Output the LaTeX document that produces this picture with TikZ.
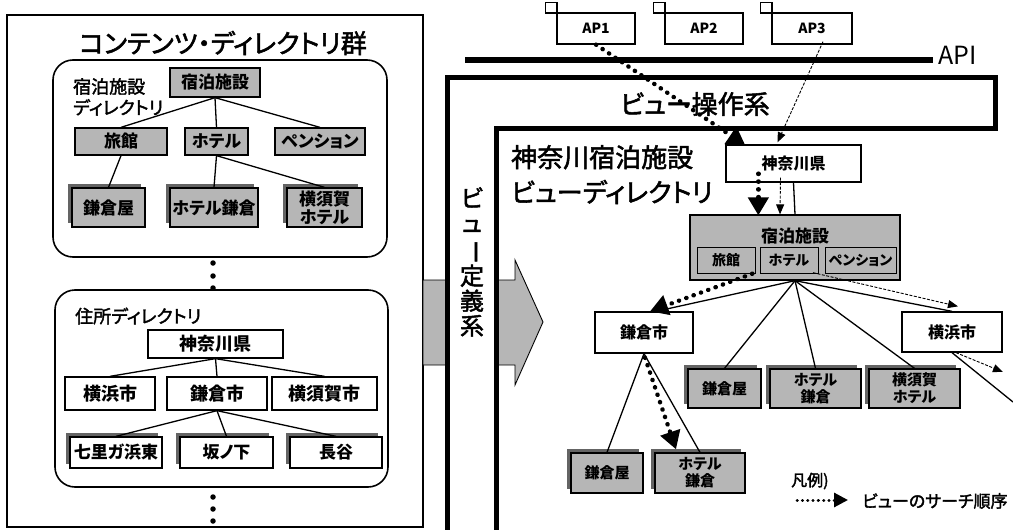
\documentclass[tikz,border=0pt]{standalone}
\usepackage{fontspec}
\usepackage{graphicx}
\setmainfont{Noto Sans CJK JP}[RawFeature={+palt}]
\newfontfamily\medfont{Noto Sans CJK JP}[RawFeature={+palt;embolden=2}]
\usetikzlibrary{arrows.meta,shadows,calc}
\definecolor{halftone}{RGB}{182,182,182}
\definecolor{shadowgrey}{RGB}{100,100,100}
\tikzset{
  bx/.style={draw, line width=1.3pt, inner sep=0pt, align=center, font=\bfseries\fontsize{17}{19}\selectfont},
  whitebox/.style={bx, fill=white},
  greybox/.style={bx, fill=halftone},
  stackbox/.style={greybox, general shadow={shadow xshift=-4pt, shadow yshift=4pt, fill=shadowgrey}},
  whitestack/.style={whitebox, general shadow={shadow xshift=-4pt, shadow yshift=4pt, fill=shadowgrey}},
  tree/.style={line width=1.3pt},
  search/.style={line width=4.4pt, dash pattern=on 0.3pt off 7.5pt, line cap=round, -{Triangle[length=18pt,width=20pt]}},
  thinsearch/.style={line width=0.9pt, dash pattern=on 3pt off 1.5pt, -{Triangle[length=10pt,width=8pt]}},
  rbox/.style={draw, line width=1.6pt, rounded corners=20pt},
  lframe/.style={line width=5pt},
  dotmark/.style={circle, fill=black, inner sep=0pt, minimum size=5.5pt},
  plaintext/.style={inner sep=0pt},
}
\begin{document}
\begin{tikzpicture}[x=1pt,y=-1pt]
\useasboundingbox (0,0) rectangle (1013,530);
\fill[white] (0,0) rectangle (1013,530);

% ---------- left panel ----------
\draw[line width=1.5pt] (7,15) rectangle (423,527);
\node[plaintext, font=\medfont\fontsize{26}{28}\selectfont] (title) at (223,43) {コンテンツ・ディレクトリ群};

\draw[rbox] (53,60) rectangle (387,257);
\node[plaintext, anchor=north west, align=left, font=\medfont\fontsize{18}{21}\selectfont] (lodgelabel) at (73,78) {宿泊施設\\ディレクトリ};
\node[greybox, minimum width=90pt, minimum height=29pt] (Lroot) at (215,82.5) {宿泊施設};
\node[greybox, minimum width=92pt, minimum height=27pt] (Lryokan) at (121,141.5) {旅館};
\node[greybox, minimum width=63pt, minimum height=27pt] (Lhotel) at (216.5,141.5) {ホテル};
\node[greybox, minimum width=90pt, minimum height=27pt] (Lpension) at (320,141.5) {ペンション};
\node[stackbox, minimum width=73pt, minimum height=39pt] (Lkamakuraya) at (108.5,207.5) {鎌倉屋};
\node[stackbox, minimum width=88pt, minimum height=39pt] (Lhotelk) at (214,207.5) {ホテル鎌倉};
\node[stackbox, minimum width=75pt, minimum height=39pt, font=\bfseries\fontsize{17}{18}\selectfont] (Lyokohotel) at (324.5,207.5) {横須賀\\ホテル};
\draw[tree] (Lroot.south) -- (Lryokan.north);
\draw[tree] (Lroot.south) -- (Lhotel.north);
\draw[tree] (Lroot.south) -- (Lpension.north);
\draw[tree] (Lryokan.south) -- (Lkamakuraya.north);
\draw[tree] (Lhotel.south) -- (Lhotelk.north);
\draw[tree] (Lhotel.south) -- (Lyokohotel.north);

\node[dotmark] (dA) at (213,263) {};
\node[dotmark] (dB) at (213,276) {};
\node[dotmark] (dC) at (213,288) {};

\draw[rbox] (55,290) rectangle (388,487);
\node[plaintext, anchor=west, font=\medfont\fontsize{18}{20}\selectfont] (addrlabel) at (75,316) {住所ディレクトリ};
\node[whitebox, minimum width=135pt, minimum height=28pt, font=\bfseries\fontsize{18}{20}\selectfont] (Lkana) at (215.5,344) {神奈川県};
\node[whitebox, minimum width=90pt, minimum height=33pt, font=\bfseries\fontsize{18}{20}\selectfont] (Lyokohama) at (110,393.5) {横浜市};
\node[whitebox, minimum width=100pt, minimum height=33pt, font=\bfseries\fontsize{18}{20}\selectfont] (Lkamakura) at (217,393.5) {鎌倉市};
\node[whitebox, minimum width=105pt, minimum height=33pt, font=\bfseries\fontsize{18}{20}\selectfont] (Lyokosuka) at (324.5,393.5) {横須賀市};
\node[whitestack, minimum width=92pt, minimum height=31pt] (Lshichi) at (116,452.5) {七里ガ浜東};
\node[whitestack, minimum width=93pt, minimum height=31pt] (Lsaka) at (226.5,452.5) {坂ノ下};
\node[whitestack, minimum width=92pt, minimum height=31pt] (Lhase) at (336,452.5) {長谷};
\draw[tree] (Lkana.south) -- (Lyokohama.north);
\draw[tree] (Lkana.south) -- (Lkamakura.north);
\draw[tree] (Lkana.south) -- (Lyokosuka.north);
\draw[tree] (Lkamakura.south) -- (Lshichi.north);
\draw[tree] (Lkamakura.south) -- (Lsaka.north);
\draw[tree] (Lkamakura.south) -- (Lhase.north);

\node[dotmark] (dD) at (213,497) {};
\node[dotmark] (dE) at (213,509) {};
\node[dotmark] (dF) at (213,521) {};

% ---------- big arrow ----------
\draw[line width=0.9pt, fill=halftone] (423,280) -- (515,280) -- (515,260) -- (543,322) -- (515,385) -- (515,365) -- (423,365) -- cycle;

% ---------- L frame ----------
\fill[white] (447.5,77) -- (995,77) -- (995,128) -- (496,128) -- (496,532) -- (447.5,532) -- cycle;
\draw[lframe] (447.5,532) -- (447.5,77) -- (995,77) -- (995,128) -- (496,128) -- (496,532);
\node[plaintext, font=\medfont\fontsize{26}{28}\selectfont] (opsys) at (695,104) {ビュー操作系};
\node[plaintext, align=center, font=\medfont\fontsize{24}{25}\selectfont] (defsys) at (472,262) {ビ\\ュ\\\rotatebox[origin=c]{-90}{ー}\\定\\義\\系};

% ---------- API ----------
\node[plaintext, anchor=west, font=\fontsize{25}{28}\selectfont] (apilabel) at (938,55) {API};
\coordinate (apistart) at (465,60);
\draw[line width=6pt] (apistart) -- ($(apistart -| apilabel.west)+(-5,0)$);

\node[whitebox, font=\bfseries\fontsize{14}{16}\selectfont, minimum width=78pt, minimum height=31pt] (ap1) at (596,28.5) {AP1};
\node[whitebox, font=\bfseries\fontsize{14}{16}\selectfont, minimum width=78pt, minimum height=31pt] (ap2) at (704,28.5) {AP2};
\node[whitebox, font=\bfseries\fontsize{14}{16}\selectfont, minimum width=80pt, minimum height=31pt] (ap3) at (812,28.5) {AP3};
\foreach \a in {ap1,ap2,ap3}{
  \draw[line width=1.3pt, fill=white] ($(\a.north west)+(-11,-10)$) rectangle ($(\a.north west)+(0.5,0.5)$);
}

% ---------- view directory ----------
\node[plaintext, anchor=north west, align=left, font=\medfont\fontsize{26}{35}\selectfont] (viewdir) at (511,145) {神奈川宿泊施設\\ビューディレクトリ};

\node[whitebox, minimum width=135pt, minimum height=37pt, font=\bfseries\fontsize{16}{18}\selectfont] (RkanaR) at (793.5,163.5) {神奈川県};
\node[greybox, minimum width=210pt, minimum height=65pt] (Rroot) at (795,247.5) {};
\node[plaintext, font=\bfseries\fontsize{17}{19}\selectfont] (Rrootlabel) at (795,236) {宿泊施設};
\node[greybox, line width=1pt, minimum width=58pt, minimum height=26pt, font=\bfseries\fontsize{14}{16}\selectfont] (Rryokan) at (726,260) {旅館};
\node[greybox, line width=1pt, minimum width=58pt, minimum height=26pt, font=\bfseries\fontsize{14}{16}\selectfont] (Rhotel) at (789,260) {ホテル};
\node[greybox, line width=1pt, minimum width=71pt, minimum height=26pt, font=\bfseries\fontsize{14}{16}\selectfont] (Rpension) at (860.5,260) {ペンション};

\node[whitebox, minimum width=98pt, minimum height=41pt, font=\bfseries\fontsize{16}{18}\selectfont] (Rkama) at (644,332.5) {鎌倉市};
\node[whitebox, minimum width=100pt, minimum height=40pt, font=\bfseries\fontsize{16}{18}\selectfont] (Ryoko) at (952,332) {横浜市};

\node[stackbox, minimum width=73pt, minimum height=39pt, font=\bfseries\fontsize{15}{17}\selectfont] (Rkamaya) at (724.5,388.5) {鎌倉屋};
\node[stackbox, minimum width=91pt, minimum height=39pt, font=\bfseries\fontsize{15}{17}\selectfont] (Rhotelk) at (815.5,388.5) {ホテル\\鎌倉};
\node[stackbox, minimum width=91pt, minimum height=39pt, font=\bfseries\fontsize{15}{17}\selectfont] (Ryokohotel) at (914.5,388.5) {横須賀\\ホテル};

\node[stackbox, minimum width=72pt, minimum height=40pt, font=\bfseries\fontsize{15}{17}\selectfont] (Bkamaya) at (607,473) {鎌倉屋};
\node[stackbox, minimum width=90pt, minimum height=40pt, font=\bfseries\fontsize{15}{17}\selectfont] (Bhotel) at (700,473) {ホテル\\鎌倉};

\coordinate (offA) at (1013,402);
\coordinate (searchEnd) at (1003,372);

\draw[tree] (RkanaR.south) -- (Rroot.north);
\draw[tree] (Rroot.south) -- ($(Rkama.north)+(12,0)$);
\draw[tree] (Rroot.south) -- (Rkamaya.north);
\draw[tree] (Rroot.south) -- (Rhotelk.north);
\draw[tree] (Rroot.south) -- (Ryokohotel.north);
\draw[tree] (Rroot.south) -- (Ryoko.north);
\draw[tree] (Ryoko.south) -- (offA);
\draw[tree] (Rkama.south) -- (Bkamaya.north);
\draw[tree] (Rkama.south) -- (Bhotel.north);

% search order (dotted)
\draw[search] (ap1.south) -- ($(RkanaR.north west)+(20,1)$);
\draw[search] ($(RkanaR.south west)+(33,-9)$) -- ($(Rroot.north west)+(69,1)$);
\draw[search] ($(Rroot.south west)+(63,-7)$) -- ($(Rkama.north)+(6,0)$);
\draw[search] ($(Rkama.south)+(1,4)$) -- ($(Bhotel.north)+(-24,-3)$);

% thin dashed
\draw[thinsearch] ($(ap3.south)+(11,-3)$) -- ($(RkanaR.north)+(-16,-2)$);
\draw[thinsearch] ($(RkanaR.south)+(-13,-5)$) -- ($(Rroot.north)+(-15,0)$);
\draw[thinsearch] ($(Rroot.south)+(18,-8)$) -- ($(Ryoko.north)+(6,-5)$);
\draw[thinsearch] ($(Ryoko.south)+(4,0)$) -- (searchEnd);

% legend
\node[plaintext, anchor=west, font=\medfont\fontsize{16}{18}\selectfont] (legend) at (791,481) {凡例)};
\coordinate (legA) at (797,500);
\coordinate (legB) at (848,500);
\draw[search, line width=3pt, dash pattern=on 0.3pt off 5pt, -{Triangle[length=14pt,width=14pt]}] (legA) -- (legB);
\node[plaintext, anchor=west, font=\medfont\fontsize{17}{20}\selectfont] (legtext) at (862,501) {ビューのサーチ順序};
\end{tikzpicture}
\end{document}
